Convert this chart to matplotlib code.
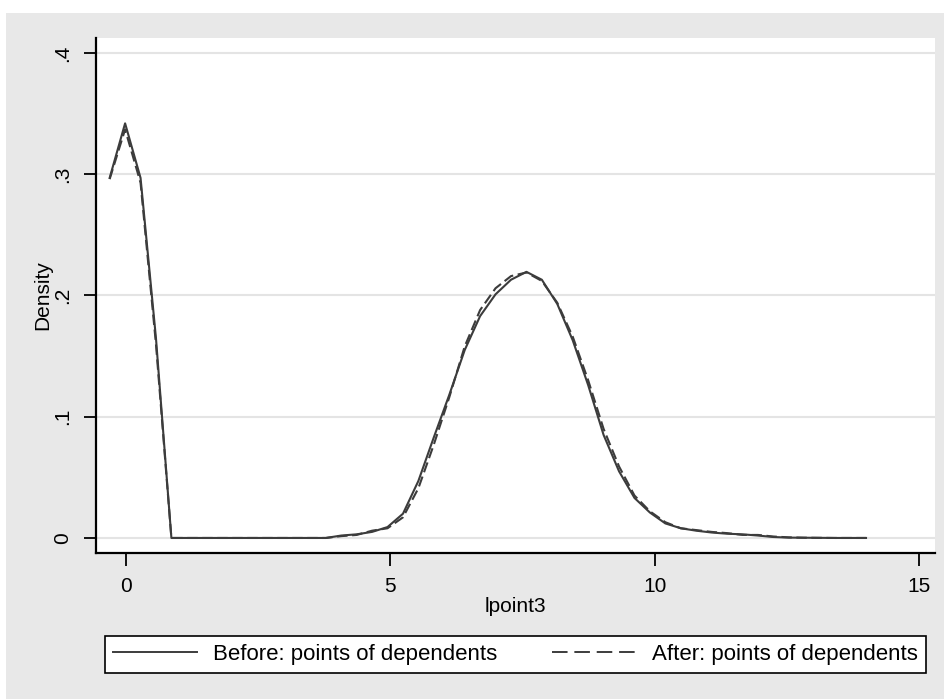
import numpy as np
import matplotlib.pyplot as plt
from matplotlib.lines import Line2D
from matplotlib.patches import Rectangle

# kernel density evaluation points (50 points, min to max of lpoint3)
grid = [-0.300, -0.008, 0.284, 0.575, 0.867, 1.159, 1.451, 1.743, 2.034, 2.326,
        2.618, 2.910, 3.201, 3.493, 3.785, 4.077, 4.368, 4.660, 4.952, 5.244,
        5.535, 5.827, 6.119, 6.411, 6.702, 6.994, 7.286, 7.578, 7.869, 8.161,
        8.453, 8.745, 9.036, 9.328, 9.620, 9.911, 10.203, 10.495, 10.787, 11.078,
        11.370, 11.662, 11.954, 12.245, 12.537, 12.829, 13.121, 13.412, 13.704, 13.996]

dens_before = [0.297, 0.342, 0.297, 0.165, 0.000, 0.000, 0.000, 0.000, 0.000, 0.000,
               0.000, 0.000, 0.000, 0.000, 0.000, 0.002, 0.003, 0.005, 0.009, 0.020,
               0.047, 0.083, 0.118, 0.155, 0.183, 0.201, 0.213, 0.2195, 0.213, 0.193,
               0.163, 0.126, 0.085, 0.055, 0.033, 0.021, 0.012, 0.008, 0.006, 0.0045,
               0.0035, 0.003, 0.002, 0.0008, 0.0003, 0.0002, 0.0001, 0.0, 0.0, 0.0]

dens_after = [0.296, 0.337, 0.293, 0.160, 0.000, 0.000, 0.000, 0.000, 0.000, 0.000,
              0.000, 0.000, 0.000, 0.000, 0.000, 0.0015, 0.0025, 0.006, 0.008, 0.017,
              0.041, 0.077, 0.116, 0.158, 0.188, 0.206, 0.216, 0.219, 0.212, 0.194,
              0.166, 0.130, 0.090, 0.059, 0.035, 0.022, 0.013, 0.008, 0.0065, 0.005,
              0.004, 0.0025, 0.0025, 0.0012, 0.0005, 0.0002, 0.0001, 0.0, 0.0, 0.0]

xticks = [0, 5, 10, 15]
yticks = [0, 0.1, 0.2, 0.3, 0.4]
ylabels = ["0", ".1", ".2", ".3", ".4"]
legend_labels = ["Before: points of dependents", "After: points of dependents"]

plt.rcParams["font.family"] = ["Liberation Sans", "DejaVu Sans"]
W, H = 945, 699
fig = plt.figure(figsize=(W / 100, H / 100), dpi=100, facecolor="white")

# gray graph region behind everything
fig.patches.append(Rectangle((6 / W, 0), 1, (H - 13) / H, transform=fig.transFigure,
                             facecolor="#e8e8e8", edgecolor="none", zorder=-10))

ax = fig.add_axes([96 / W, (H - 553) / H, (935 - 96) / W, (553 - 38) / H])
ax.set_facecolor("white")

lc = "#3c3c3c"
ax.plot(grid, dens_before, color=lc, lw=1.5, solid_joinstyle="round")
ax.plot(grid, dens_after, color=lc, lw=1.5, dashes=(5, 2.2))

ax.set_xlim(-0.558, 15.30)
ax.set_ylim(-0.0124, 0.4124)
ax.set_xticks(xticks)
ax.set_xticklabels([str(t) for t in xticks])
ax.set_yticks(yticks)
ax.set_yticklabels(ylabels, rotation=90, va="center")
ax.grid(axis="y", color="#e4e4e4", lw=1.5)
ax.set_axisbelow(True)

for s in ["top", "right"]:
    ax.spines[s].set_visible(False)
for s in ["left", "bottom"]:
    ax.spines[s].set_linewidth(1.6)
    ax.spines[s].set_color("black")

ax.tick_params(axis="both", length=9, width=1.3, pad=8, labelsize=15, colors="black")
ax.set_xlabel("lpoint3", fontsize=15, labelpad=1)
ax.set_ylabel("Density", fontsize=15, labelpad=1)

handles = [Line2D([], [], color=lc, lw=1.4),
           Line2D([], [], color=lc, lw=1.4, dashes=(8, 3.5))]
leg = fig.legend(handles, legend_labels, loc="center", ncol=2, mode="expand",
                 bbox_to_anchor=(105 / W, (H - 677) / H, (926 - 105) / W, 45 / H),
                 bbox_transform=fig.transFigure, fontsize=16, frameon=True,
                 fancybox=False, handlelength=3.8, handletextpad=0.7,
                 borderaxespad=0, borderpad=0.35)
frame = leg.get_frame()
frame.set_edgecolor("black")
frame.set_linewidth(1.2)
frame.set_facecolor("white")
frame.set_alpha(1)

fig.savefig("out.png", dpi=100, facecolor=fig.get_facecolor())
